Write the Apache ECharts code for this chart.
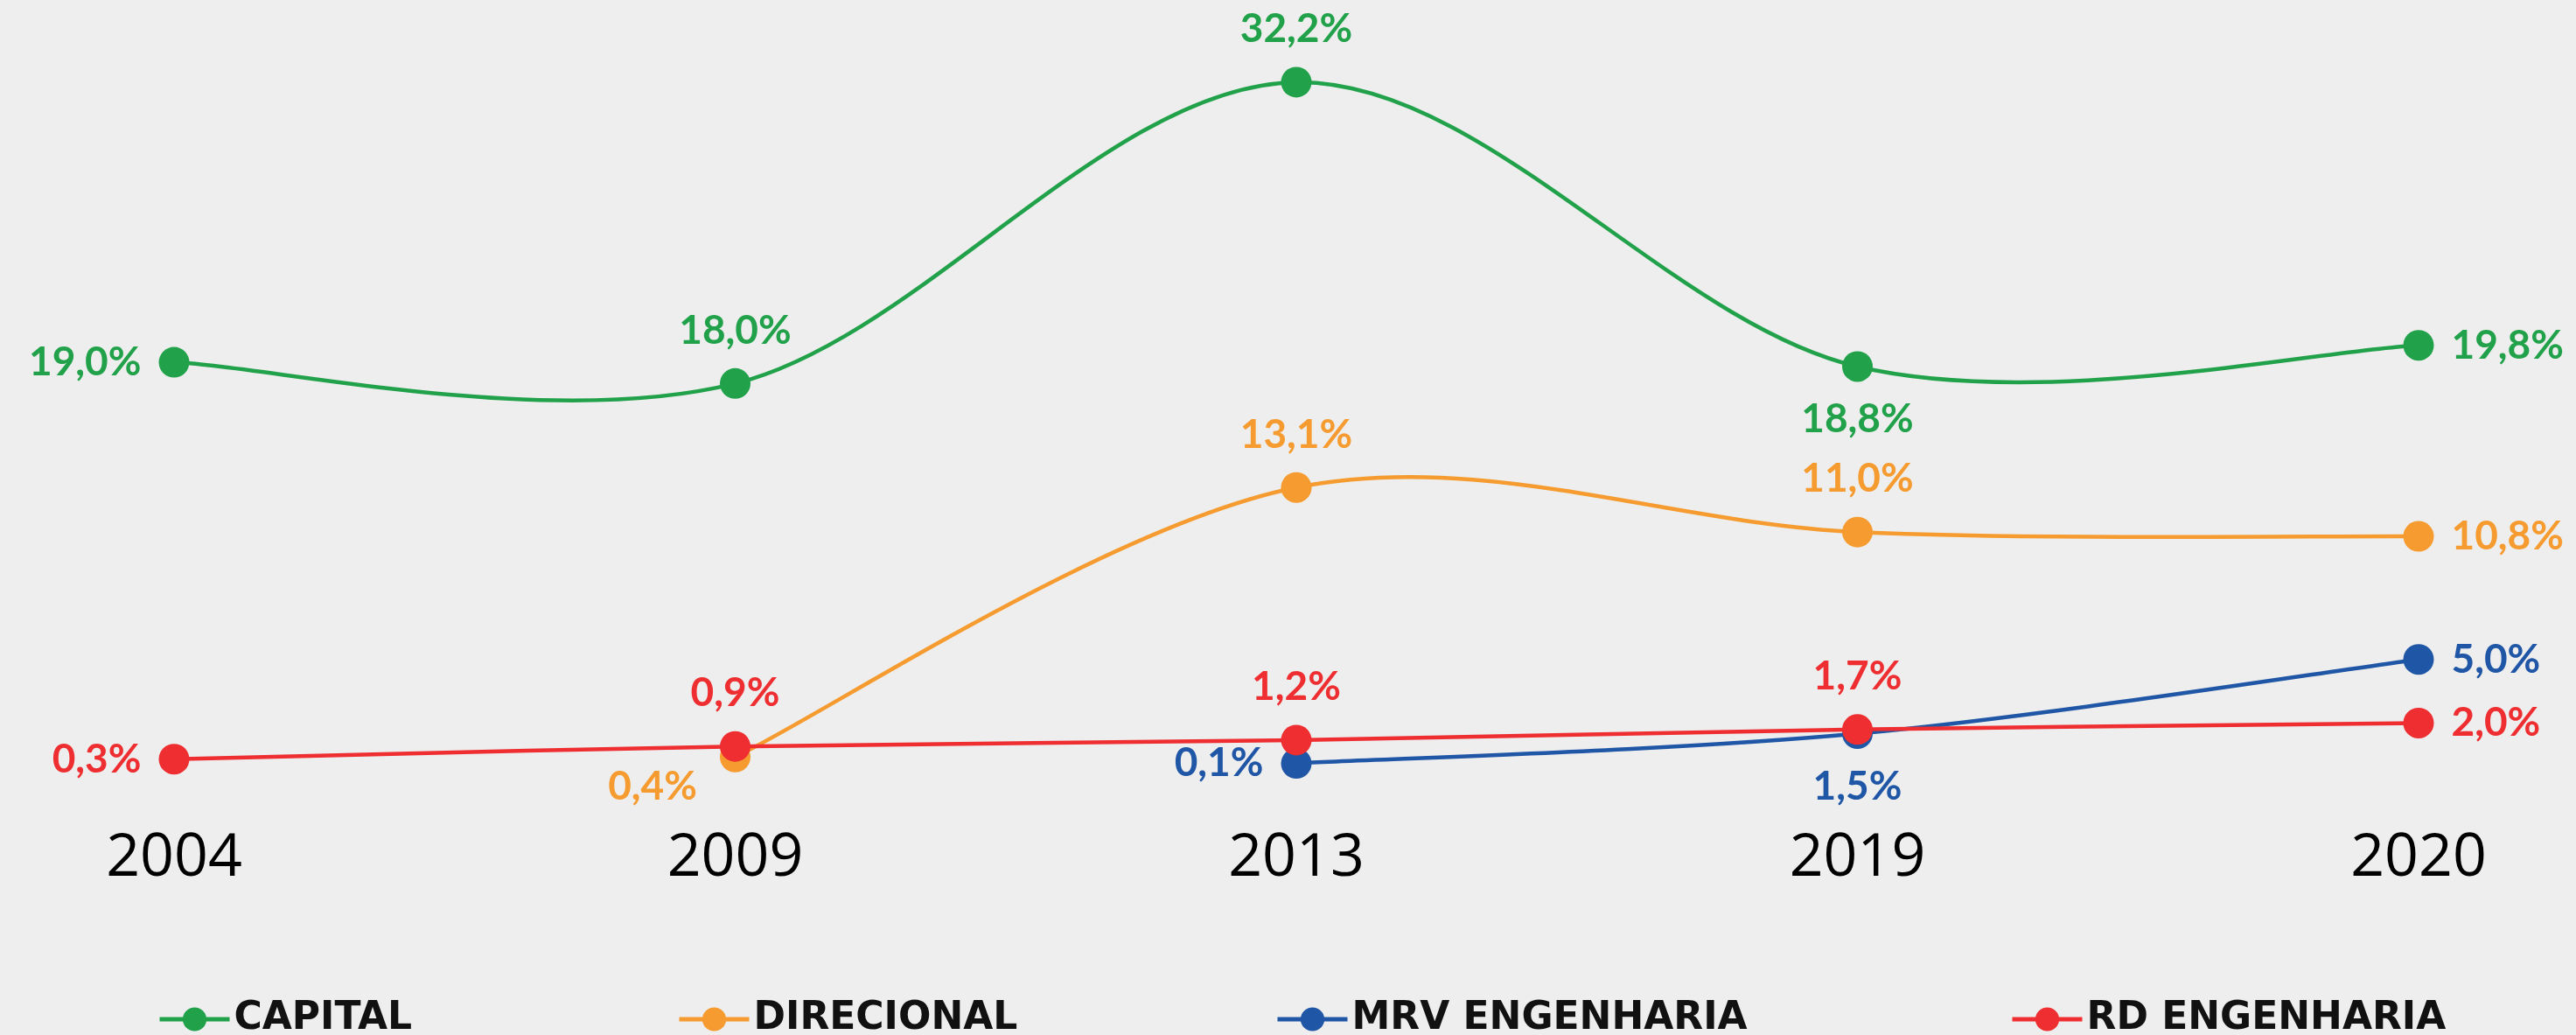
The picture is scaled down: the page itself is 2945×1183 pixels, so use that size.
<!DOCTYPE html>
<html>
<head>
<meta charset="utf-8">
<script src="https://cdn.jsdelivr.net/npm/echarts@6/dist/echarts.min.js"></script>
<style>
  html, body { margin: 0; padding: 0; background: #eeeeee; }
  #container { width: 2945px; height: 1183px; }
</style>
</head>
<body>
<div id="container"></div>
<script>
var years = ['2004', '2009', '2013', '2019', '2020'];
var names = ['CAPITAL', 'DIRECIONAL', 'MRV ENGENHARIA', 'RD ENGENHARIA'];
var capital = [19.0, 18.0, 32.2, 18.8, 19.8];
var direcional = [null, 0.4, 13.1, 11.0, 10.8];
var mrv = [null, null, 0.1, 1.5, 5.0];
var rd = [0.3, 0.9, 1.2, 1.7, 2.0];

// label placement per point (style only)
var labelPos = [
    ['left', 'top', 'top', 'bottom', 'right'],
    [null, 'left', 'top', 'top', 'right'],
    [null, null, 'left', 'bottom', 'right'],
    ['left', 'top', 'top', 'top', 'right']
];
var colors = ['#21a24a', '#f59b2f', '#1f56a6', '#ee2e30'];
var legendLeft = [175, 769, 1453, 2293];
var lineW = 4.5;

var dom = document.getElementById('container');
var myChart = echarts.init(dom);

function fmt(p) {
    return p.value.toFixed(1).replace('.', ',') + '%';
}

// smooth curve (catmull-rom style, like the spreadsheet original) drawn through the axis scale
function curveSeries(idx, values) {
    var items = [];
    for (var i = 0; i < values.length; i++) {
        items.push([i, values[i] === null ? '-' : values[i]]);
    }
    return {
        name: names[idx] + ' linha',
        type: 'custom',
        data: items,
        z: 2 + idx,
        silent: true,
        renderItem: function (params, api) {
            var i = params.dataIndex;
            var v = values;
            if (v[i] === null || i + 1 >= v.length || v[i + 1] === null) return;
            var p1 = api.coord([i, v[i]]);
            var p2 = api.coord([i + 1, v[i + 1]]);
            var p0 = (i - 1 >= 0 && v[i - 1] !== null) ? api.coord([i - 1, v[i - 1]]) : p1;
            var p3 = (i + 2 < v.length && v[i + 2] !== null) ? api.coord([i + 2, v[i + 2]]) : p2;
            return {
                type: 'bezierCurve',
                shape: {
                    x1: p1[0], y1: p1[1],
                    x2: p2[0], y2: p2[1],
                    cpx1: p1[0] + (p2[0] - p0[0]) / 6,
                    cpy1: p1[1] + (p2[1] - p0[1]) / 6,
                    cpx2: p2[0] - (p3[0] - p1[0]) / 6,
                    cpy2: p2[1] - (p3[1] - p1[1]) / 6
                },
                style: { stroke: colors[idx], lineWidth: lineW, fill: null }
            };
        }
    };
}

function pointSeries(idx, values) {
    var items = [];
    for (var i = 0; i < values.length; i++) {
        if (values[i] === null) { items.push(null); continue; }
        var item = { value: values[i], label: { position: labelPos[idx][i] } };
        if (idx === 1 && i === 1) {
            item.label.offset = [-6, 34];
        }
        items.push(item);
    }
    return {
        name: names[idx],
        type: 'line',
        data: items,
        symbol: 'circle',
        symbolSize: 35,
        color: colors[idx],
        lineStyle: { width: lineW, color: colors[idx], opacity: 0 },
        itemStyle: { color: colors[idx] },
        label: {
            show: true,
            distance: 20,
            color: colors[idx],
            fontFamily: 'Lato, Roboto, sans-serif',
            fontWeight: 'bold',
            fontSize: 46,
            formatter: fmt
        },
        z: 2 + idx
    };
}

var legends = [];
for (var k = 0; k < names.length; k++) {
    legends.push({
        data: [names[k]],
        left: legendLeft[k],
        top: 1138,
        itemWidth: 80,
        itemHeight: 34,
        lineStyle: { width: 5, opacity: 1 },
        textStyle: {
            color: '#111',
            fontFamily: "'DejaVu Sans', sans-serif",
            fontWeight: 'bold',
            fontSize: 44
        }
    });
}

var allSeries = [];
var vals = [capital, direcional, mrv, rd];
for (var s = 0; s < vals.length; s++) {
    allSeries.push(curveSeries(s, vals[s]));
    allSeries.push(pointSeries(s, vals[s]));
}

var option = {
    backgroundColor: '#eeeeee',
    animation: false,
    legend: legends,
    grid: { left: 199, right: 180, top: 26, bottom: 308 },
    xAxis: {
        type: 'category',
        data: years,
        boundaryGap: false,
        axisLine: { show: false },
        axisTick: { show: false },
        axisLabel: {
            margin: 73,
            color: '#000',
            fontSize: 68,
            fontFamily: "'Open Sans', 'Noto Sans', sans-serif"
        }
    },
    yAxis: {
        type: 'value',
        min: 0,
        max: 35,
        show: false,
        splitLine: { show: false }
    },
    series: allSeries
};

myChart.setOption(option);
</script>
</body>
</html>
